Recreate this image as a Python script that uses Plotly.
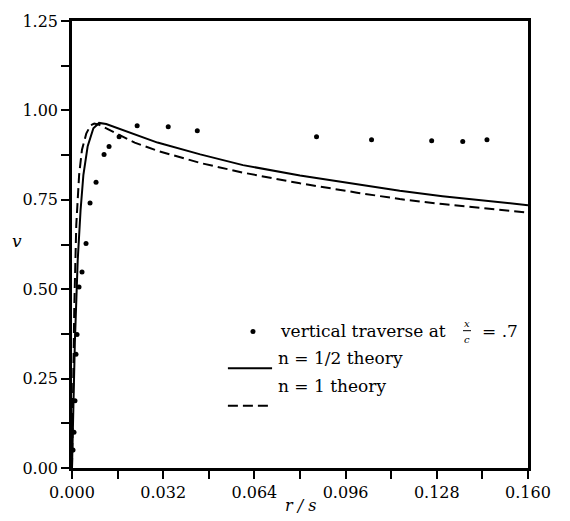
import plotly.graph_objects as go

# Measured velocity, vertical traverse at x/c = .7
trav_r = [0.00035, 0.0007, 0.00105, 0.0014, 0.00176, 0.00246, 0.00352, 0.00492,
          0.00633, 0.00844, 0.01125, 0.0130, 0.01653, 0.02286, 0.03376, 0.04396,
          0.0858, 0.1051, 0.1262, 0.1371, 0.1456]
trav_v = [0.050, 0.100, 0.188, 0.318, 0.373, 0.506, 0.548, 0.628,
          0.741, 0.799, 0.877, 0.899, 0.926, 0.957, 0.954, 0.943,
          0.926, 0.918, 0.915, 0.913, 0.918]

# n = 1/2 theory
half_r = [0.0, 0.0004, 0.001, 0.002, 0.003, 0.004, 0.0055, 0.0075, 0.0095,
          0.012, 0.016, 0.022, 0.030, 0.045, 0.060, 0.080, 0.100, 0.115,
          0.130, 0.145, 0.160]
half_v = [0.0, 0.16, 0.35, 0.58, 0.72, 0.82, 0.90, 0.950, 0.965,
          0.962, 0.950, 0.932, 0.910, 0.877, 0.847, 0.818, 0.793, 0.775,
          0.760, 0.748, 0.735]

# n = 1 theory
one_r = [0.0, 0.0003, 0.0008, 0.0015, 0.0025, 0.0035, 0.005, 0.0065, 0.0078,
         0.0095, 0.012, 0.016, 0.022, 0.030, 0.045, 0.060, 0.080, 0.100,
         0.115, 0.130, 0.145, 0.160]
one_v = [0.0, 0.18, 0.45, 0.68, 0.82, 0.89, 0.935, 0.958, 0.963,
         0.960, 0.950, 0.932, 0.910, 0.887, 0.853, 0.826, 0.796, 0.770,
         0.752, 0.738, 0.726, 0.714]

x_ticks = [0.000, 0.032, 0.064, 0.096, 0.128, 0.160]
y_ticks = [0.00, 0.25, 0.50, 0.75, 1.00, 1.25]

SERIF = "DejaVu Serif"

fig = go.Figure()
fig.add_trace(go.Scatter(x=half_r, y=half_v, mode="lines",
                         line=dict(color="black", width=2), name="n = 1/2 theory"))
fig.add_trace(go.Scatter(x=one_r, y=one_v, mode="lines",
                         line=dict(color="black", width=2, dash="10px,5px"),
                         name="n = 1 theory"))
fig.add_trace(go.Scatter(x=trav_r, y=trav_v, mode="markers",
                         marker=dict(color="black", size=5), name="vertical traverse"))

axis_common = dict(
    showline=True, linecolor="black", linewidth=2.5, mirror=True,
    ticks="outside", tickcolor="black", tickwidth=2, ticklen=8,
    showgrid=False, zeroline=False,
    tickfont=dict(family=SERIF, size=16, color="black"),
)
fig.update_xaxes(range=[0, 0.16], tickvals=x_ticks, tickformat=".3f",
                 minor=dict(dtick=0.016, ticks="outside", ticklen=8,
                            tickwidth=2, tickcolor="black", showgrid=False),
                 **axis_common)
fig.update_yaxes(range=[0, 1.25], tickvals=y_ticks, tickformat=".2f",
                 minor=dict(dtick=0.125, ticks="outside", ticklen=8,
                            tickwidth=2, tickcolor="black", showgrid=False),
                 **axis_common)

# In-plot key
key_font = dict(family=SERIF, size=17, color="black")
fig.add_trace(go.Scatter(x=[0.0635], y=[0.382], mode="markers",
                         marker=dict(color="black", size=5), showlegend=False))
fig.add_annotation(x=0.0723, y=0.382, xref="x", yref="y", text="vertical traverse at",
                   showarrow=False, xanchor="left", yanchor="middle", font=key_font)
fig.add_annotation(x=0.1386, y=0.405, xref="x", yref="y", text="<i>x</i>",
                   showarrow=False, xanchor="center", yanchor="middle",
                   font=dict(family=SERIF, size=10, color="black"))
fig.add_annotation(x=0.1386, y=0.360, xref="x", yref="y", text="<i>c</i>",
                   showarrow=False, xanchor="center", yanchor="middle",
                   font=dict(family=SERIF, size=10, color="black"))
fig.add_shape(type="line", xref="x", yref="y", x0=0.1372, x1=0.1400, y0=0.384, y1=0.384,
              line=dict(color="black", width=1))
fig.add_annotation(x=0.1432, y=0.382, xref="x", yref="y", text="= .7",
                   showarrow=False, xanchor="left", yanchor="middle", font=key_font)

fig.add_shape(type="line", xref="x", yref="y", x0=0.0547, x1=0.0702, y0=0.279, y1=0.279,
              line=dict(color="black", width=2))
fig.add_annotation(x=0.0716, y=0.307, xref="x", yref="y", text="n = 1/2 theory",
                   showarrow=False, xanchor="left", yanchor="middle", font=key_font)
fig.add_shape(type="line", xref="x", yref="y", x0=0.0547, x1=0.0702, y0=0.174, y1=0.174,
              line=dict(color="black", width=2, dash="10px,5px"))
fig.add_annotation(x=0.0716, y=0.2295, xref="x", yref="y", text="n = 1 theory",
                   showarrow=False, xanchor="left", yanchor="middle", font=key_font)

# Axis titles
fig.add_annotation(x=17, y=238, xref="paper", yref="paper", text="<i>v</i>",
                   showarrow=False, font=dict(family=SERIF, size=17, color="black"))
fig.add_annotation(x=0.5, y=-0.085, xref="paper", yref="paper", text="<i>r / s</i>",
                   showarrow=False, xanchor="center", yanchor="middle",
                   font=dict(family=SERIF, size=16, color="black"))

fig.update_layout(
    width=570, height=521,
    margin=dict(l=72, r=42, t=16, b=53),
    paper_bgcolor="white", plot_bgcolor="white",
    showlegend=False,
)

# place the y title in pixel terms
plot_w = 570 - 72 - 42
plot_h = 521 - 16 - 53
fig.layout.annotations[-2].update(x=(17 - 72) / plot_w, y=(521 - 53 - 238) / plot_h,
                                  xanchor="center", yanchor="middle")

fig.write_html("out.html")
